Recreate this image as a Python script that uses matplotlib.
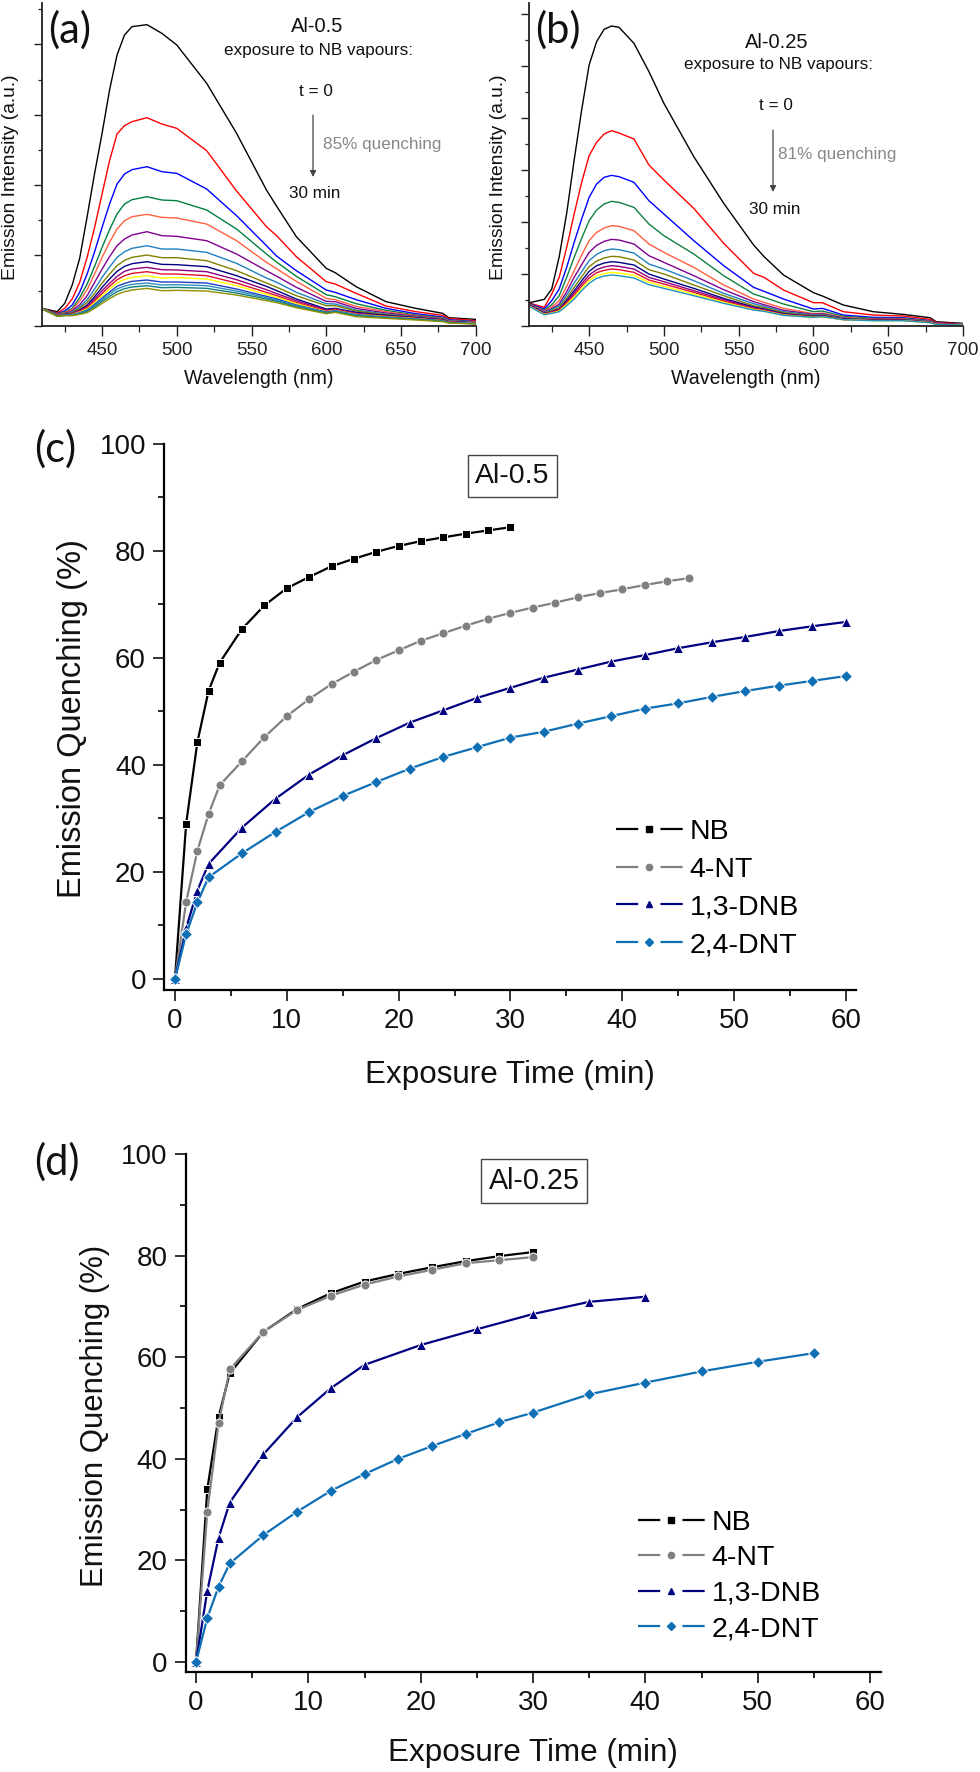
import matplotlib
matplotlib.use('Agg')
import matplotlib.pyplot as plt
from matplotlib.lines import Line2D
from matplotlib.ticker import MultipleLocator

plt.rcParams['font.family'] = ['Liberation Sans', 'DejaVu Sans']

W_PX, H_PX = 980, 1772

# spectra (height above the axis, 211 units = one major tick in a)
wl_a = [410, 420, 425, 430, 435, 440, 445, 450, 455, 460, 465, 470, 480, 490, 500, 520, 540, 560, 567, 580, 600, 606, 620, 640, 660, 678, 682, 700]
spec_a = [
    [52, 42, 67, 122, 202, 327, 457, 577, 707, 812, 872, 897, 903, 877, 842, 727, 577, 407, 357, 267, 172, 159, 117, 72, 52, 37, 24, 19],
    [52, 38, 52, 80, 130, 205, 295, 395, 495, 575, 600, 612, 624, 605, 592, 525, 404, 297, 269, 207, 132, 125, 97, 59, 42, 31, 22, 15],
    [52, 36, 44, 62, 100, 155, 222, 295, 365, 425, 455, 468, 477, 462, 457, 410, 330, 240, 208, 165, 107, 100, 78, 52, 36, 26, 18, 12],
    [52, 35, 41, 52, 84, 125, 178, 235, 288, 335, 365, 378, 387, 377, 375, 347, 290, 215, 190, 148, 93, 87, 66, 46, 32, 24, 16, 11],
    [52, 34, 39, 48, 74, 108, 155, 205, 250, 290, 315, 327, 334, 325, 323, 305, 255, 190, 170, 133, 82, 78, 58, 42, 30, 22, 15, 10],
    [52, 33, 37, 44, 63, 90, 130, 170, 207, 240, 260, 272, 282, 270, 268, 255, 215, 165, 148, 115, 73, 72, 52, 38, 28, 21, 14, 10],
    [52, 32, 36, 41, 56, 78, 110, 145, 176, 205, 222, 232, 240, 230, 230, 220, 187, 143, 130, 100, 66, 65, 47, 35, 26, 20, 14, 10],
    [52, 32, 35, 39, 52, 70, 97, 128, 155, 180, 196, 205, 212, 204, 204, 195, 165, 128, 115, 90, 60, 60, 44, 33, 25, 19, 13, 9],
    [52, 31, 34, 37, 47, 62, 87, 115, 140, 163, 178, 186, 192, 184, 183, 177, 150, 118, 105, 80, 50, 52, 40, 31, 24, 18, 12, 8],
    [51, 31, 33, 36, 45, 58, 80, 105, 127, 148, 163, 170, 175, 168, 167, 162, 138, 108, 96, 75, 47, 50, 37, 29, 23, 17, 12, 8],
    [51, 30, 33, 35, 43, 54, 74, 97, 118, 138, 150, 157, 162, 155, 155, 150, 128, 100, 90, 70, 44, 48, 35, 28, 22, 16, 11, 7],
    [51, 30, 32, 34, 41, 50, 69, 90, 110, 128, 139, 145, 150, 143, 144, 140, 120, 94, 85, 66, 42, 46, 34, 27, 21, 15, 10, 7],
    [50, 30, 32, 33, 39, 47, 64, 83, 101, 118, 127, 133, 137, 131, 131, 128, 110, 88, 80, 62, 41, 45, 33, 26, 20, 15, 10, 6],
    [50, 29, 31, 32, 38, 45, 60, 78, 95, 110, 119, 124, 128, 122, 123, 120, 104, 84, 76, 60, 40, 44, 32, 25, 20, 14, 9, 6],
    [50, 29, 31, 31, 36, 42, 56, 73, 88, 102, 111, 116, 120, 114, 115, 112, 98, 80, 73, 57, 38, 42, 30, 24, 19, 14, 9, 6],
    [50, 28, 30, 30, 34, 39, 52, 67, 81, 94, 102, 107, 112, 105, 106, 104, 92, 75, 69, 54, 36, 40, 27, 22, 17, 12, 8, 5],
]
wl_b = [410, 420, 425, 430, 435, 440, 445, 450, 455, 460, 465, 470, 480, 490, 500, 520, 540, 560, 567, 580, 600, 606, 620, 640, 660, 678, 682, 700]
spec_b = [
    [69, 79, 110, 207, 337, 497, 647, 782, 852, 889, 899, 895, 847, 762, 667, 507, 367, 242, 207, 152, 99, 89, 62, 42, 34, 24, 12, 7],
    [68, 55, 95, 145, 235, 335, 430, 510, 550, 575, 585, 578, 560, 482, 437, 352, 247, 157, 145, 107, 69, 69, 42, 32, 29, 19, 10, 5],
    [67, 50, 75, 110, 175, 250, 320, 385, 425, 445, 451, 447, 430, 375, 335, 255, 180, 115, 103, 80, 50, 52, 32, 25, 24, 15, 8, 4],
    [66, 46, 63, 90, 145, 205, 262, 315, 347, 365, 373, 370, 355, 305, 270, 215, 150, 95, 85, 65, 42, 44, 28, 22, 22, 14, 7, 4],
    [65, 44, 56, 75, 118, 165, 212, 255, 280, 293, 300, 298, 285, 245, 220, 175, 122, 80, 70, 52, 36, 38, 25, 20, 20, 13, 7, 4],
    [64, 42, 51, 65, 102, 145, 183, 220, 241, 253, 259, 257, 245, 210, 190, 150, 108, 72, 63, 46, 34, 36, 23, 19, 19, 12, 6, 3],
    [63, 40, 48, 60, 92, 128, 162, 195, 214, 225, 230, 228, 218, 185, 170, 135, 97, 66, 58, 42, 32, 34, 22, 18, 18, 12, 6, 3],
    [62, 38, 45, 55, 83, 115, 147, 177, 194, 203, 208, 207, 197, 168, 155, 122, 90, 60, 54, 39, 30, 32, 21, 18, 17, 11, 6, 3],
    [62, 37, 42, 50, 76, 105, 135, 163, 180, 188, 192, 190, 182, 155, 140, 112, 82, 56, 50, 36, 28, 30, 20, 17, 17, 10, 5, 3],
    [61, 36, 41, 48, 72, 98, 126, 152, 168, 176, 180, 178, 170, 145, 132, 105, 78, 53, 48, 34, 27, 29, 19, 16, 16, 10, 5, 3],
    [60, 35, 40, 46, 68, 92, 119, 143, 159, 166, 170, 168, 160, 137, 125, 100, 74, 51, 46, 33, 26, 28, 18, 16, 16, 10, 5, 3],
    [59, 34, 38, 44, 64, 86, 112, 135, 150, 156, 160, 158, 151, 130, 118, 95, 70, 49, 44, 32, 25, 27, 18, 15, 15, 9, 4, 2],
    [58, 33, 37, 42, 60, 80, 105, 127, 142, 149, 152, 150, 143, 123, 112, 90, 67, 47, 43, 31, 25, 27, 18, 15, 15, 9, 4, 2],
]
spec_colors_a = ['#000000', '#ff0000', '#0000ff', '#008040', '#ff6040', '#800090', '#2080c0', '#808000',
                 '#000080', '#900080', '#e01030', '#ffff00', '#2040c0', '#3090c0', '#108080', '#909000']
spec_colors_b = ['#000000', '#ff0000', '#0000ff', '#108040', '#ff6040', '#800090', '#2080c0', '#808000',
                 '#000080', '#900080', '#e01030', '#ffff00', '#2090c0']

# quenching curves, panel c
t_nb_c = [0, 1, 2, 3, 4, 6, 8, 10, 12, 14, 16, 18, 20, 22, 24, 26, 28, 30]
q_nb_c = [0, 29.0, 44.2, 53.8, 59.1, 65.4, 69.8, 73.0, 75.1, 77.1, 78.5, 79.8, 80.9, 81.8, 82.5, 83.2, 83.8, 84.4]
t_nt_c = [0, 1, 2, 3, 4, 6, 8, 10, 12, 14, 16, 18, 20, 22, 24, 26, 28, 30, 32, 34, 36, 38, 40, 42, 44, 46]
q_nt_c = [0, 14.4, 23.9, 30.8, 36.2, 40.7, 45.2, 49.1, 52.3, 55.1, 57.4, 59.6, 61.4, 63.2, 64.6, 66.0, 67.3, 68.4,
          69.4, 70.3, 71.3, 72.1, 72.8, 73.6, 74.3, 74.9]
t_dnb_c = [0, 1, 2, 3, 6, 9, 12, 15, 18, 21, 24, 27, 30, 33, 36, 39, 42, 45, 48, 51, 54, 57, 60]
q_dnb_c = [0, 9.5, 16.5, 21.5, 28.3, 33.7, 38.2, 41.8, 45.0, 47.9, 50.2, 52.5, 54.4, 56.3, 57.8, 59.3, 60.5, 61.8,
           62.9, 63.9, 65.0, 65.9, 66.7]
t_dnt_c = t_dnb_c
q_dnt_c = [0, 8.4, 14.3, 19.0, 23.5, 27.5, 31.2, 34.2, 36.8, 39.3, 41.5, 43.3, 45.1, 46.2, 47.7, 49.1, 50.5, 51.5,
           52.7, 53.8, 54.8, 55.7, 56.6]

# quenching curves, panel d
t_nb_d = [0, 1, 2, 3, 6, 9, 12, 15, 18, 21, 24, 27, 30]
q_nb_d = [0, 34.0, 48.2, 56.8, 65.0, 69.5, 72.6, 74.9, 76.4, 77.7, 78.9, 79.9, 80.7]
t_nt_d = t_nb_d
q_nt_d = [0, 29.6, 47.0, 57.6, 65.0, 69.3, 72.1, 74.3, 75.9, 77.2, 78.5, 79.1, 79.7]
t_dnb_d = [0, 1, 2, 3, 6, 9, 12, 15, 20, 25, 30, 35, 40]
q_dnb_d = [0, 14.0, 24.4, 31.4, 40.9, 48.2, 53.9, 58.5, 62.4, 65.5, 68.5, 70.9, 71.9]
t_dnt_d = [0, 1, 2, 3, 6, 9, 12, 15, 18, 21, 24, 27, 30, 35, 40, 45, 50, 55]
q_dnt_d = [0, 8.7, 14.8, 19.4, 25.0, 29.6, 33.7, 37.0, 40.0, 42.5, 44.9, 47.2, 49.1, 52.7, 55.0, 57.2, 59.1, 60.8]

names = ['NB', '4-NT', '1,3-DNB', '2,4-DNT']
line_colors = ['#000000', '#808080', '#000080', '#0f6fb5']
markers = ['s', 'o', '^', 'D']
marker_sizes = [5.5, 6.5, 7, 5.8]


def px_axes(fig, left, top, right, bottom):
    return fig.add_axes([left / W_PX, 1 - bottom / H_PX, (right - left) / W_PX, (bottom - top) / H_PX])


def fig_text(fig, x, y, s, **kw):
    kw.setdefault('ha', 'center')
    kw.setdefault('va', 'center')
    fig.text(x / W_PX, 1 - y / H_PX, s, **kw)


def spectra_panel(fig, box, wl, spectra, colors, ymajor, ytop):
    ax = px_axes(fig, *box)
    for vals, c in zip(spectra, colors):
        ax.plot(wl, vals, color=c, lw=1.0)
    ax.set_xlim(410, 700)
    ax.set_ylim(0, ytop)
    ax.xaxis.set_major_locator(MultipleLocator(50))
    ax.xaxis.set_minor_locator(MultipleLocator(25))
    ax.yaxis.set_major_locator(MultipleLocator(ymajor))
    ax.yaxis.set_minor_locator(MultipleLocator(ymajor / 2))
    ax.tick_params(axis='x', which='major', length=7, width=1, labelsize=13.5, pad=5, colors='#222222')
    ax.tick_params(axis='x', which='minor', length=4, width=0.9, colors='#222222')
    ax.tick_params(axis='y', which='major', length=6, width=1, labelleft=False, colors='#222222')
    ax.tick_params(axis='y', which='minor', length=3, width=0.9, colors='#222222')
    for side in ['top', 'right']:
        ax.spines[side].set_visible(False)
    for side in ['left', 'bottom']:
        ax.spines[side].set_linewidth(1.3)
        ax.spines[side].set_color('#222222')
    return ax


def quench_panel(fig, box, curves, xlim, ylim, legend_anchor, spacing):
    ax = px_axes(fig, *box)
    for (t, q), c, m, ms in zip(curves, line_colors, markers, marker_sizes):
        ax.plot(t, q, color=c, lw=1.6, marker=m, ms=ms, mfc=c, mec='white', mew=0.7, clip_on=False)
    ax.set_xlim(*xlim)
    ax.set_ylim(*ylim)
    ax.xaxis.set_major_locator(MultipleLocator(10))
    ax.xaxis.set_minor_locator(MultipleLocator(5))
    ax.yaxis.set_major_locator(MultipleLocator(20))
    ax.yaxis.set_minor_locator(MultipleLocator(10))
    ax.tick_params(which='major', length=8, width=1.2, labelsize=20, pad=5, colors='#111111')
    ax.tick_params(which='minor', length=4.5, width=1.2)
    for side in ['top', 'right']:
        ax.spines[side].set_visible(False)
    for side in ['left', 'bottom']:
        ax.spines[side].set_linewidth(1.6)
    handles = []
    for c, m, n in zip(line_colors, markers, names):
        lw = 1.6
        dash = 16 / lw
        handles.append(Line2D([], [], color=c, lw=lw, ls=(0, (dash, dash, dash, 200)), marker=m, ms=4.5, mfc=c, mec=c, label=n))
    ax.legend(handles=handles, loc='upper left', bbox_to_anchor=(legend_anchor[0] / W_PX, 1 - legend_anchor[1] / H_PX),
              bbox_transform=fig.transFigure, frameon=False, fontsize=20.5, handlelength=48 / 20.5, handletextpad=0.25,
              labelspacing=spacing, numpoints=1, borderpad=0, borderaxespad=0)
    return ax


fig = plt.figure(figsize=(W_PX / 100, H_PX / 100), dpi=100)

spectra_panel(fig, (42.3, 3, 475.7, 325.7), wl_a, spec_a, spec_colors_a, 211, 968)
spectra_panel(fig, (529.3, 3, 963, 325.7), wl_b, spec_b, spec_colors_b, 156, 968)

quench_panel(fig, (164, 443.7, 856, 990), [(t_nb_c, q_nb_c), (t_nt_c, q_nt_c), (t_dnb_c, q_dnb_c), (t_dnt_c, q_dnt_c)],
             (-0.98, 60.9), (-2.05, 100), (616, 819), 0.41)
quench_panel(fig, (185.6, 1154, 881, 1671.7), [(t_nb_d, q_nb_d), (t_nt_d, q_nt_d), (t_dnb_d, q_dnb_d), (t_dnt_d, q_dnt_d)],
             (-0.93, 60.98), (-1.9, 100), (638, 1510), 0.33)

# labels of the two spectra
for dx, dy, name, pct, pct_x, arrow_x in [(0, 0, 'Al-0.5', '85% quenching', 323, 313),
                                          (460, 15, 'Al-0.25', '81% quenching', 778, 773)]:
    fig_text(fig, 317 + dx, 27 + dy, name, fontsize=14.5, color='#111111')
    fig_text(fig, 318 + dx, 50 + dy, 'exposure to NB vapours:', fontsize=12.3, color='#111111')
    fig_text(fig, 316 + dx, 91 + dy, 't = 0', fontsize=12.3, color='#111111')
    fig_text(fig, pct_x, 145 + dy * 0.6, pct, fontsize=12.3, color='#888888', ha='left')
    fig_text(fig, 315 + dx, 194 + dy, '30 min', fontsize=12.3, color='#111111')
    fig.add_artist(plt.Annotation('', xy=(arrow_x / W_PX, 1 - (177 + dy) / H_PX), xytext=(arrow_x / W_PX, 1 - (115 + dy) / H_PX),
                                  xycoords='figure fraction', textcoords='figure fraction',
                                  arrowprops=dict(arrowstyle='-|>', color='#444444', lw=0.9, mutation_scale=9, shrinkA=0, shrinkB=0)))

fig_text(fig, 11, 177, 'Emission Intensity (a.u.)', fontsize=13.9, rotation=90, color='#111111')
fig_text(fig, 498, 177, 'Emission Intensity (a.u.)', fontsize=13.9, rotation=90, color='#111111')
fig_text(fig, 259, 378, 'Wavelength (nm)', fontsize=14.1, color='#111111')
fig_text(fig, 746, 378, 'Wavelength (nm)', fontsize=14.1, color='#111111')

fig_text(fig, 70, 30, '(a)', fontsize=30, family=['Lato', 'DejaVu Sans'], color='#111111')
fig_text(fig, 558, 30, '(b)', fontsize=30, family=['Lato', 'DejaVu Sans'], color='#111111')
fig_text(fig, 55, 449, '(c)', fontsize=30, family=['Lato', 'DejaVu Sans'], color='#111111')
fig_text(fig, 57, 1162, '(d)', fontsize=30, family=['Lato', 'DejaVu Sans'], color='#111111')

fig_text(fig, 73, 719, 'Emission Quenching (%)', fontsize=23.5, rotation=90, color='#111111')
fig_text(fig, 95, 1416, 'Emission Quenching (%)', fontsize=22.4, rotation=90, color='#111111')
fig_text(fig, 510, 1075, 'Exposure Time (min)', fontsize=22.6, color='#111111')
fig_text(fig, 533, 1753, 'Exposure Time (min)', fontsize=22.6, color='#111111')

box_style = dict(boxstyle='square,pad=0.27', fc='white', ec='#444444', lw=1)
fig_text(fig, 512.5, 476, 'Al-0.5', fontsize=20.5, color='#111111', bbox=box_style)
fig_text(fig, 534, 1181, 'Al-0.25', fontsize=20.7, color='#111111', bbox=box_style)

fig.savefig('out.png', dpi=100)
